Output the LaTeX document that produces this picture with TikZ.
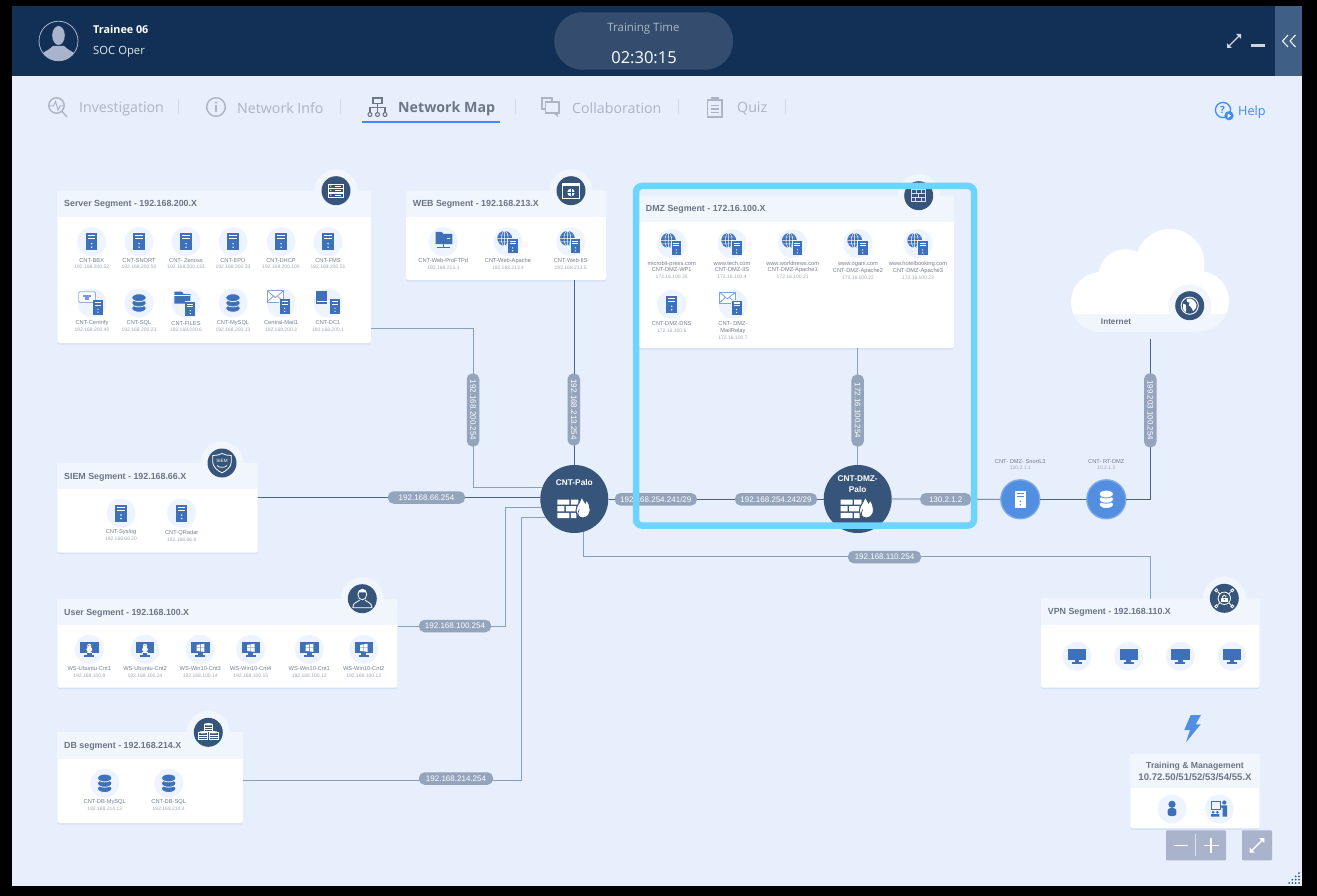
\documentclass[tikz,border=0pt]{standalone}
\usepackage{fontspec}
\setmainfont{Liberation Sans}
\newfontfamily\uifont{Open Sans}
\usetikzlibrary{positioning}
\usetikzlibrary{fit}
\usetikzlibrary{shadows}

\definecolor{pagebg}{HTML}{E6EFFB}
\definecolor{topbar}{HTML}{122F55}
\definecolor{topside}{HTML}{3F5F87}
\definecolor{timerbg}{HTML}{344D6E}
\definecolor{headbg}{HTML}{F1F6FC}
\definecolor{badgebg}{HTML}{37557B}
\definecolor{discbg}{HTML}{EDF4FF}
\definecolor{devblue}{HTML}{3E71BA}
\definecolor{lightdev}{HTML}{528FE0}
\definecolor{lightring}{HTML}{7DAAE8}
\definecolor{pillbg}{HTML}{93A4BC}
\definecolor{titletext}{HTML}{6B7588}
\definecolor{nametext}{HTML}{747E90}
\definecolor{iptext}{HTML}{A0A8B5}
\definecolor{tabgray}{HTML}{ABB5C4}
\definecolor{tabdark}{HTML}{6B7686}
\definecolor{linkblue}{HTML}{3F8BF0}
\definecolor{wiredark}{HTML}{4A6488}
\definecolor{wirelight}{HTML}{86A0C0}
\definecolor{hilite}{HTML}{6FD3FF}
\definecolor{softbtn}{HTML}{A9B3CB}
\definecolor{cardshadow}{HTML}{C9D7EE}

\newcommand{\pxfont}[2]{\fontsize{#1}{#2}\selectfont}
\newcommand{\devip}[1]{{\pxfont{5}{7}\color{iptext}#1}}

\tikzset{
  segbox/.style={fill=white, rounded corners=1.5pt, inner sep=0pt,
    drop shadow={shadow xshift=0pt, shadow yshift=-1.5pt, fill=cardshadow, opacity=.6}},
  headfill/.style={fill=headbg},
  segtitle/.style={anchor=west, inner sep=0pt, text=titletext, font=\bfseries\pxfont{8.85}{10}},
  devdisc/.style={circle, fill=discbg, minimum size=29, inner sep=0pt},
  devlabel/.style={anchor=north, align=center, inner sep=0pt, text=nametext, font=\pxfont{5.7}{6.8}},
  halo/.style={circle, fill=headbg, minimum size=43, inner sep=0pt},
  badge/.style={circle, fill=badgebg, minimum size=29, inner sep=0pt},
  fwdisc/.style={circle, fill=badgebg, minimum size=68, inner sep=0pt},
  fwlabel/.style={align=center, inner sep=0pt, text=white, font=\bfseries\pxfont{8.3}{10.3}},
  lightdisc/.style={circle, fill=lightdev, draw=lightring, line width=1.3, minimum size=39, inner sep=0pt},
  wire/.style={draw=wiredark, line width=.8},
  softwire/.style={draw=wirelight, line width=.9},
  pill/.style={fill=pillbg, text=white, rounded corners=5.5pt, minimum height=12.5, inner sep=0pt,
    font=\pxfont{8}{9}},
  tablabel/.style={anchor=west, inner sep=0pt, text=tabgray, font=\uifont\pxfont{14.2}{16}},
  tabbar/.style={draw=tabgray!50, line width=.7},
  tabicon/.style={draw=tabgray, line width=1.4},
  badgeline/.style={draw=white, line width=.8},
}

% device icons, drawn around (0,0)
\newcommand{\iconsrvc}[2]{%
  \fill[#1] (-5.7,-8.5) rectangle (5.7,8.5);
  \draw[#2, line width=1.1] (-3.6,-5.8) -- (3.6,-5.8) (-3.6,-2.8) -- (3.6,-2.8);
  \fill[#2] (0,2) circle (.8) (0,5.5) circle (.8);
}
\newcommand{\iconsrv}{\iconsrvc{devblue}{white}}
\newcommand{\subsrv}[2]{%
  \begin{scope}[shift={(#1,#2)},scale=.85]
    \draw[discbg, line width=1] (-5.7,-8.5) rectangle (5.7,8.5);
    \iconsrv
  \end{scope}
}
\newcommand{\icondbc}[2]{%
  \foreach \dy in {5.3,0,-5.3}
    \filldraw[fill=#1, draw=#2, line width=.8] (0,\dy) ellipse (7.2 and 3.9);
}
\newcommand{\icondb}{\icondbc{devblue}{discbg}}
\newcommand{\iconweb}{%
  \begin{scope}[shift={(-3.3,-3.3)}]
    \fill[devblue] (0,0) circle (7.4);
    \draw[white, line width=.45] (-7.4,0) -- (7.4,0) (0,-7.4) -- (0,7.4) (0,0) ellipse (3.4 and 7.4)
      (-6.5,-3.4) -- (6.5,-3.4) (-6.5,3.4) -- (6.5,3.4);
  \end{scope}
  \subsrv{4.7}{4.5}
}
\newcommand{\iconmon}{%
  \fill[devblue] (-9.2,-7) rectangle (9.2,4);
  \fill[devblue] (-2.4,4) rectangle (2.4,6.2);
  \fill[devblue] (-5,6) rectangle (5,7.4);
}
\newcommand{\iconwin}{%
  \iconmon
  \fill[white] (-3.7,-4.4) -- (-.4,-4.9) -- (-.4,-1.7) -- (-3.7,-1.7) -- cycle
    (.2,-5) -- (4,-5.5) -- (4,-1.7) -- (.2,-1.7) -- cycle
    (-3.7,-1.1) -- (-.4,-1.1) -- (-.4,2) -- (-3.7,1.6) -- cycle
    (.2,-1.1) -- (4,-1.1) -- (4,2.6) -- (.2,2.1) -- cycle;
}
\newcommand{\icontux}{%
  \iconmon
  \fill[white] (0,-3.4) circle (2.1) (0,.2) ellipse (2.9 and 2.7);
  \fill[white] (-2.7,2.3) rectangle (2.7,3);
  \fill[devblue] (-.8,-3.7) circle (.4) (.8,-3.7) circle (.4);
}
\newcommand{\iconftp}{%
  \fill[devblue] (-7.7,-9.7) -- (-1.5,-9.7) -- (0,-7.8) -- (9,-7.8) -- (9,2.3) -- (-7.7,2.3) -- cycle;
  \draw[white, line width=.8] (3.5,-3) -- (6.5,-3);
  \draw[devblue, line width=1.1] (0,2.3) -- (0,6) (-6.5,6) -- (6.5,6);
}
\newcommand{\iconmail}{%
  \filldraw[fill=white, draw=devblue!65, line width=.9] (-14,-12.3) rectangle (2.7,-1);
  \draw[devblue!65, line width=.8] (-14,-12.3) -- (-5.6,-5.5) -- (2.7,-12.3) (-14,-1) -- (-7.5,-7) (2.7,-1) -- (-3.7,-7);
  \subsrv{3.7}{3.6}
}
\newcommand{\iconfolder}{%
  \fill[devblue] (-11.7,-11.3) -- (-4,-11.3) -- (-2.5,-9) -- (4.3,-9) -- (4.3,.7) -- (-11.7,.7) -- cycle;
  \draw[white, line width=.5] (-11.7,-7.5) -- (4.3,-7.5);
  \subsrv{4.3}{6}
}
\newcommand{\iconbook}{%
  \fill[devblue] (-12.3,-12) rectangle (-1,.7);
  \fill[white] (-11.4,-1.6) rectangle (-1,-.6);
  \subsrv{7}{3.6}
}
\newcommand{\iconpanel}{%
  \filldraw[fill=white, draw=devblue!55, line width=.9, rounded corners=1pt] (-13.3,-11.3) rectangle (3.3,-.7);
  \fill[devblue!70] (-8.8,-7.6) rectangle (-1.2,-6.4);
  \fill[devblue!70] (-7.2,-5.6) rectangle (-2.8,-3.4);
  \subsrv{6}{4.5}
}
\newcommand{\iconperson}{%
  \fill[devblue] (0,-4.7) circle (3.6);
  \fill[devblue, rounded corners=2.5pt] (-4.3,7) -- (-4.3,-.8) -- (4.3,-.8) -- (4.3,7) -- cycle;
}
\newcommand{\icontrainer}{%
  \draw[devblue, line width=.9] (-8.3,-8) rectangle (1.3,.3);
  \fill[devblue] (5,-6.5) circle (2.1);
  \fill[devblue] (2.4,-3.6) -- (7.7,-3.6) -- (7.7,7.7) -- (3.4,7.7) -- (3.4,-1) -- (1,-2) -- cycle;
  \fill[devblue] (-6.2,3.3) circle (1.5) (-1.9,3.3) circle (1.5);
  \fill[devblue] (-8.2,5.1) rectangle (-4.2,7.7) (-3.9,5.1) rectangle (.1,7.7);
}
\newcommand{\diagarrows}[3]{%
  \draw[#1, line width=#3] (-#2+1,#2-1) -- (#2-1,-#2+1);
  \fill[#1] (#2,-#2) -- (0.3*#2,-#2) -- (#2,-0.3*#2) -- cycle;
  \fill[#1] (-#2,#2) -- (-0.3*#2,#2) -- (-#2,0.3*#2) -- cycle;
}

% badge icons
\newcommand{\badgerack}{%
  \foreach \dy in {-6.5,-2,2.5}{
    \draw[badgeline] (-7.2,\dy) rectangle (7.2,\dy+3.8);
    \fill[white] (-5.2,\dy+1.9) circle (.7);
    \draw[white, line width=.7] (-1,\dy+1.9) -- (5,\dy+1.9);
  }
}
\newcommand{\badgebrowser}{%
  \draw[badgeline] (-8.3,-7) rectangle (8.3,7.5);
  \fill[white] (-8.3,-7) rectangle (8.3,-4.5);
  \fill[white] (0,1.8) circle (3.8);
  \draw[badgebg, line width=.6] (-3.8,1.8) -- (3.8,1.8) (0,-2) -- (0,5.6);
}
\newcommand{\badgewall}{%
  \draw[badgeline, draw=white!80!badgebg] (-7,-6) rectangle (7,6)
    (-7,-2) -- (7,-2) (-7,2) -- (7,2) (-2.5,-6) -- (-2.5,-2) (3,-6) -- (3,-2)
    (0,-2) -- (0,2) (-3,2) -- (-3,6) (3,2) -- (3,6);
}
\newcommand{\badgeshield}{%
  \draw[badgeline] (0,-9.5) .. controls (3,-8) and (6,-7.5) .. (9.3,-7.5) -- (9.3,-1)
    .. controls (9.3,4) and (4,8) .. (0,9.8) .. controls (-4,8) and (-9.3,4) .. (-9.3,-1) -- (-9.3,-7.5)
    .. controls (-6,-7.5) and (-3,-8) .. (0,-9.5) -- cycle;
  \node[inner sep=0pt, text=white, font=\pxfont{4.6}{5}] (siemmark) at (0,-2.5) {SIEM};
  \draw[white, line width=.7] (-5,2.5) .. controls (-3,5) and (3,5) .. (5,2.5);
}
\newcommand{\badgeuser}{%
  \draw[badgeline] (0,-4.2) ellipse (4.4 and 5.3);
  \draw[badgeline] (-9.6,9) .. controls (-9.6,3.5) and (-4,3.3) .. (-2.7,1.2)
    (2.7,1.2) .. controls (4,3.3) and (9.6,3.5) .. (9.6,9) -- (-9.6,9);
  \fill[white] (-4.4,-6.2) .. controls (-3,-10) and (3,-10) .. (4.4,-6.2) -- (2.8,-6.4) -- (-2.8,-6.4) -- cycle;
}
\newcommand{\badgedbs}{%
  \foreach \ox/\oy in {0/-5,-5.3/3,5.3/3}{
    \filldraw[fill=badgebg, draw=white, line width=.6] (\ox-4.3,\oy-3) rectangle (\ox+4.3,\oy+4);
    \fill[white] (\ox,\oy-3) ellipse (4.3 and 1.2);
    \draw[white, line width=.6] (\ox-4.3,\oy) -- (\ox+4.3,\oy) (\ox-4.3,\oy+2) -- (\ox+4.3,\oy+2);
  }
}
\newcommand{\badgevpn}{%
  \draw[badgeline] (0,0) circle (6.2);
  \draw[badgeline] (-4.4,-4.4) -- (-6.7,-6.7) (4.4,-4.4) -- (6.7,-6.7) (-4.4,4.4) -- (-6.7,6.7) (4.4,4.4) -- (6.7,6.7);
  \foreach \sx/\sy in {-8/-8,8/-8,-8/8,8/8}
    \draw[badgeline] (\sx,\sy) circle (1.5);
  \filldraw[fill=white, draw=white] (-2.8,-.6) rectangle (2.8,3.2);
  \draw[badgeline] (-1.7,-.6) -- (-1.7,-2) .. controls (-1.5,-3.3) and (1.5,-3.3) .. (1.7,-2) -- (1.7,-.6);
  \fill[badgebg] (0,1.3) circle (.7);
}
\newcommand{\badgeglobe}{%
  \draw[white, line width=.9] (0,0) circle (8.6);
  \fill[white] (-2.5,-7) .. controls (2,-8) and (6,-5) .. (6.8,-1) .. controls (7,3) and (5,3) .. (3.5,5.5)
    .. controls (2,5) and (3,2) .. (1,1) .. controls (-1,1) and (-2,-1) .. (0,-3) .. controls (-2,-3) and (-4,-4) .. (-2.5,-7) -- cycle;
  \fill[white] (-6.5,-2) .. controls (-4,-2.5) and (-3,0) .. (-3.5,2) .. controls (-4,5) and (-3,6) .. (-4.5,6.5)
    .. controls (-7,4) and (-7.5,1) .. (-6.5,-2) -- cycle;
}
\newcommand{\iconfw}{%
  \fill[white] (-17,.5) rectangle (-5,5.6) (-3.5,.5) rectangle (4,5.6)
    (-17,7.2) rectangle (-10,12.3) (-8.5,7.2) rectangle (2,12.3)
    (-17,13.9) rectangle (-5,19) (-3.5,13.9) rectangle (2,19);
  \filldraw[fill=white, draw=badgebg, line width=.9] (7,-3.7) .. controls (8,0) and (10,2) .. (11,4)
    .. controls (11.5,2.8) and (12,2) .. (12.2,1) .. controls (14.5,4) and (15.8,7.5) .. (15.8,11)
    .. controls (15.8,16) and (12,18.9) .. (8.7,18.9) .. controls (5,18.9) and (1.7,16) .. (1.7,11)
    .. controls (1.7,7.5) and (4,6.5) .. (5,3.5) .. controls (6.5,1.5) and (7.3,-1) .. (7,-3.7) -- cycle;
  \draw[badgebg, line width=.7] (4.8,18) .. controls (3,15) and (3.6,12.5) .. (5,10.5);
}

% cards and their items
\newcommand{\segcard}[7]{%
  \coordinate (#1nw) at (#2,#3);
  \coordinate (#1se) at (#4,#5);
  \node[segbox, fit=(#1nw)(#1se)] (#1) {};
  \fill[headfill] (#2,#3) rectangle (#4,#6);
  \node[segtitle] (#1title) at (#2+6.7,{(#3+#6)/2+.8}) {#7};
}
\newcommand{\segbadge}[4]{%
  \node[halo] (#1halo) at (#2,#3) {};
  \node[badge] (#1) at (#2,#3) {};
  \begin{scope}[shift={(#2,#3)}] #4 \end{scope}
}
\newcommand{\devicon}[4]{%
  \node[devdisc] (#1) at (#2,#3) {};
  \begin{scope}[shift={(#2,#3)}] #4 \end{scope}
}
\newcommand{\devitem}[7][16.3]{%
  \devicon{#2}{#3}{#4}{#5}
  \node[devlabel] (#2txt) at (#3,#4+#1) {#6\\\devip{#7}};
}

\begin{document}
\begin{tikzpicture}[x=1pt,y=-1pt]
    \fill[black] (0,0) rectangle (1317,896);
    \useasboundingbox (0,0) rectangle (1317,896);
    \fill[pagebg] (12,6) rectangle (1302,886);

    % top bar
    \fill[topbar] (12,6) rectangle (1302,76);
    \fill[topside] (1275,6) rectangle (1302,76);
    \begin{scope}
        \clip (58.5,41) ellipse (19.5 and 19.8);
        \fill[softbtn] (58.5,35.5) ellipse (6.3 and 9.5);
        \fill[softbtn] (38,62) .. controls (40,51) and (49,51) .. (53,46) -- (64,46) .. controls (68,51) and (77,51) .. (79,62) -- cycle;
    \end{scope}
    \draw[softbtn, line width=.8] (58.5,41) ellipse (19.5 and 19.8);
    \node[anchor=west, inner sep=0pt, text=white, font=\uifont\bfseries\pxfont{10.8}{12}] (trainee) at (93,29.5) {Trainee 06};
    \node[anchor=west, inner sep=0pt, text=white!90!topbar, font=\uifont\pxfont{11.3}{12}] (role) at (93,51.5) {SOC Oper};
    \fill[timerbg, rounded corners=28pt] (554.3,12.3) rectangle (733,69.7);
    \node[inner sep=0pt, text=tabgray, font=\uifont\pxfont{11.5}{12}] (traintime) at (643.5,29) {Training Time};
    \node[inner sep=0pt, text=white, font=\uifont\pxfont{16.5}{18}] (clock) at (644,57.5) {02:30:15};
    \begin{scope}[shift={(1234,41)}] \diagarrows{white!80!topbar}{7}{1.2} \end{scope}
    \fill[white!80!topbar] (1250.7,43.7) rectangle (1264.5,47.3);
    \draw[white, line width=1] (1288,35) -- (1282.5,41) -- (1288,47) (1295.5,35) -- (1290,41) -- (1295.5,47);

    % tabs
    \node[tablabel] (tabinv) at (79,108.5) {Investigation};
    \node[tablabel] (tabinfo) at (237,108.5) {Network Info};
    \node[tablabel, text=tabdark, font=\uifont\bfseries\pxfont{14.2}{16}] (tabmap) at (398,108.5) {Network Map};
    \node[tablabel] (tabcollab) at (572,108.5) {Collaboration};
    \node[tablabel] (tabquiz) at (737,108.5) {Quiz};
    \foreach \bx in {178,340,515,678,785}
        \draw[tabbar] (\bx,99) -- (\bx,114);
    \fill[linkblue] (362,121) rectangle (500,123);
    % investigation icon
    \draw[tabicon] (56.5,105.5) circle (7.7);
    \draw[tabicon] (61.5,111) -- (67,117);
    \draw[tabicon, line width=1] (50,106) -- (53.5,106) -- (55.5,101.5) -- (58,110) -- (60,106) -- (63,106);
    % info icon
    \draw[tabicon] (216,107) circle (9.3);
    \fill[tabgray] (216,102.7) circle (1.2);
    \fill[tabgray] (215,105.5) rectangle (217,112);
    % tree icon
    \draw[tabdark, line width=1.3] (373,98) rectangle (382,103.5);
    \draw[tabdark, line width=1.2] (377.5,103.5) -- (377.5,107.5) (370,112) -- (370,107.5) -- (385,107.5) -- (385,112) (377.5,107.5) -- (377.5,112);
    \foreach \tx in {370,377.5,385}
        \draw[tabdark, line width=1.1] (\tx,114.5) circle (2);
    % collaboration icon
    \draw[tabicon] (552,102) -- (552,98) -- (542,98) -- (542,109) -- (545,109);
    \draw[tabicon] (545.5,102) rectangle (559,113);
    \fill[tabgray] (553,113) -- (558,117) -- (558,113) -- cycle;
    % quiz icon
    \draw[tabicon] (707.5,100) rectangle (722,117);
    \fill[tabgray] (711,97) rectangle (718.5,101.5);
    \draw[tabicon, line width=1.1] (710.5,105.5) -- (719,105.5) (710.5,109) -- (719,109) (710.5,112.5) -- (719,112.5);
    % help
    \draw[linkblue, line width=1.3] (1223,110) circle (7.6);
    \node[inner sep=0pt, text=linkblue, font=\uifont\bfseries\pxfont{10}{11}] (helpmark) at (1222.5,110) {?};
    \fill[linkblue] (1229,115.7) circle (4.6);
    \fill[white] (1227.6,113.5) -- (1231.2,115.7) -- (1227.6,118) -- cycle;
    \node[tablabel, text=linkblue, font=\uifont\pxfont{12.7}{14}] (helptext) at (1238,112.5) {Help};

    % server segment
    \segcard{srvseg}{57.3}{191}{371}{343}{217}{Server Segment - 192.168.200.X}
    \segbadge{srvbadge}{336}{190.7}{\badgerack}
    \devitem{bbx}{91.7}{241.7}{\iconsrv}{CNT-BBX}{192.168.200.52}
    \devitem{snort}{139}{241.7}{\iconsrv}{CNT-SNORT}{192.168.200.50}
    \devitem{zenoss}{186}{241.7}{\iconsrv}{CNT- Zenoss}{192.168.200.133}
    \devitem{epo}{233}{241.7}{\iconsrv}{CNT-EPO}{192.168.200.33}
    \devitem{dhcp}{281}{241.7}{\iconsrv}{CNT-DHCP}{192.168.200.100}
    \devitem{fms}{328}{241.7}{\iconsrv}{CNT-FMS}{192.168.200.51}
    \devitem[17]{centrify}{92}{303}{\iconpanel}{CNT-Centrify}{192.168.200.40}
    \devitem[17.2]{sql}{139}{303}{\icondb}{CNT-SQL}{192.168.200.23}
    \devitem[18]{files}{186}{303}{\iconfolder}{CNT-FILES}{192.168.200.6}
    \devitem[17.2]{mysql}{233}{303}{\icondb}{CNT-MySQL}{192.168.200.13}
    \devitem[17]{mailone}{281}{303}{\iconmail}{Central-Mail1}{192.168.200.3}
    \devitem[17.2]{dcone}{328}{303}{\iconbook}{CNT-DC1}{192.168.200.1}

    % web segment
    \segcard{webseg}{406}{191}{606}{280}{217}{WEB Segment - 192.168.213.X}
    \segbadge{webbadge}{571}{190.7}{\badgebrowser}
    \devitem{ftpd}{443.3}{241.7}{\iconftp}{CNT-Web-ProFTPd}{192.168.213.3}
    \devitem{apache}{508}{241.7}{\iconweb}{CNT-Web-Apache}{192.168.213.4}
    \devitem{iis}{570.7}{241.7}{\iconweb}{CNT-Web-IIS}{192.168.213.5}

    % dmz segment
    \segcard{dmzseg}{639}{196}{954}{348}{221.7}{DMZ Segment - 172.16.100.X}
    \segbadge{dmzbadge}{918.7}{195.7}{\badgewall}
    \devitem[17]{wpone}{671.7}{243.7}{\iconweb}{microbit-press.com\\CNT-DMZ-WP1}{172.16.100.35}
    \devitem[17]{dmziis}{732}{243.7}{\iconweb}{www.tech.com\\CNT-DMZ-IIS}{172.16.100.4}
    \devitem[17]{apone}{792.7}{243.7}{\iconweb}{www.worldnews.com\\CNT-DMZ-Apache1}{172.16.100.21}
    \devitem[17.8]{aptwo}{858}{243.7}{\iconweb}{www.ogani.com\\CNT-DMZ-Apache2}{172.16.100.22}
    \devitem[17.8]{apthree}{918}{243.7}{\iconweb}{www.hotelbooking.com\\CNT-DMZ-Apache3}{172.16.100.23}
    \devitem[17.4]{dmzdns}{671.7}{304.3}{\iconsrv}{CNT-DMZ-DNS}{172.16.100.6}
    \devitem[17]{relay}{733}{304.3}{\iconmail}{CNT- DMZ-\\MailRelay}{172.16.100.7}

    % siem segment
    \segcard{siemseg}{57.3}{463.3}{257.7}{552.7}{489}{SIEM Segment - 192.168.66.X}
    \segbadge{siembadge}{222}{463}{\badgeshield}
    \devitem{syslog}{121}{513}{\iconsrv}{CNT-Syslog}{192.168.66.20}
    \devitem[17]{qradar}{181.7}{513}{\iconsrv}{CNT-QRadar}{192.168.66.6}

    % user segment
    \segcard{userseg}{57.3}{599.3}{397.3}{687.7}{625}{User Segment - 192.168.100.X}
    \segbadge{userbadge}{362.3}{598.7}{\badgeuser}
    \devitem[16.7]{ubuone}{89.3}{649.3}{\icontux}{WS-Ubuntu-Cnt1}{192.168.100.9}
    \devitem[16.7]{ubutwo}{145}{649.3}{\icontux}{WS-Ubuntu-Cnt2}{192.168.100.24}
    \devitem[16.7]{winthree}{200.3}{649.3}{\iconwin}{WS-Win10-Cnt3}{192.168.100.14}
    \devitem[16.7]{winfour}{250.7}{649.3}{\iconwin}{WS-Win10-Cnt4}{192.168.100.15}
    \devitem[16.7]{winone}{309.3}{649.3}{\iconwin}{WS-Win10-Cnt1}{192.168.100.12}
    \devitem[16.7]{wintwo}{363.7}{649.3}{\iconwin}{WS-Win10-Cnt2}{192.168.100.13}

    % db segment
    \segcard{dbseg}{57.3}{732.3}{243}{823}{758.7}{DB segment - 192.168.214.X}
    \segbadge{dbbadge}{208.3}{732.3}{\badgedbs}
    \devitem{dbmysql}{104.7}{783.3}{\icondb}{CNT-DB-MySQL}{192.168.214.13}
    \devitem{dbsql}{168.7}{783.3}{\icondb}{CNT-DB-SQL}{192.168.214.4}

    % vpn segment
    \segcard{vpnseg}{1041}{598.7}{1259.7}{687.7}{625}{VPN Segment - 192.168.110.X}
    \segbadge{vpnbadge}{1224.3}{598.3}{\badgevpn}
    \foreach \vid/\vx in {a/1077,b/1128.7,c/1180.3,d/1232}{
        \devicon{vpn\vid}{\vx}{656.3}{\iconmon}
    }

    % training and management
    \fill[lightdev] (1190.7,715) -- (1201,715) -- (1195.7,724.3) -- (1200.7,724.3) -- (1186,742.3) -- (1190,730) -- (1184.3,730) -- cycle;
    \segcard{mgmtseg}{1130.3}{754}{1259.7}{828.3}{788}{}
    \node[align=center, inner sep=0pt, text=titletext, font=\bfseries\pxfont{8.65}{12.7}] (mgmttitle) at (1195,771.5) {Training \& Management\\{\pxfont{9.6}{12.7}10.72.50/51/52/53/54/55.X}};
    \devicon{mgmtuser}{1172}{809}{\iconperson}
    \devicon{mgmtclass}{1219.3}{809}{\icontrainer}

    % map buttons
    \fill[softbtn, rounded corners=1pt] (1166,830.3) rectangle (1226,860.3);
    \draw[white!60!softbtn, line width=.6] (1195.7,834) -- (1195.7,856);
    \draw[white, line width=1.5] (1174,845.3) -- (1188,845.3) (1203.5,845.3) -- (1219,845.3) (1211.2,838) -- (1211.2,853);
    \fill[softbtn, rounded corners=1pt] (1242,830.3) rectangle (1272,860.3);
    \begin{scope}[shift={(1257,845.3)}] \diagarrows{white}{7.3}{1.5} \end{scope}
    \foreach \i in {0,...,3}
        \foreach \j in {\i,...,3}
            \fill[badgebg] ({1299-(3-\j)*3.3},{883-\i*3.3}) circle (1);

    % internet cloud
    \fill[white] (1101,302) circle (30) (1199,301) circle (30) (1125,275.7) circle (26.5) (1170,263.5) circle (34.5);
    \fill[white] (1101,285) rectangle (1199,332);
    \begin{scope}
        \clip (1060,314) rectangle (1240,340);
        \fill[headbg] (1101,302) circle (30) (1199,301) circle (30);
        \fill[headbg] (1101,285) rectangle (1199,332);
    \end{scope}
    \node[inner sep=0pt, text=titletext, font=\bfseries\pxfont{8.2}{10}] (inettxt) at (1116,322) {Internet};
    \segbadge{inet}{1189.7}{305.7}{\badgeglobe}
    \coordinate (inetport) at (1150.3,339.3);

    % firewalls and dmz devices
    \node[fwdisc] (palo) at (574.3,499) {};
    \node[fwlabel] (palotxt) at (574.3,483) {CNT-Palo};
    \begin{scope}[shift={(574.3,499)}] \iconfw \end{scope}
    \node[fwdisc] (dmzfw) at (857.7,499) {};
    \node[fwlabel] (dmzfwtxt) at (857.7,484) {CNT-DMZ-\\Palo};
    \begin{scope}[shift={(857.7,499)}] \iconfw \end{scope}
    \node[lightdisc] (snortlt) at (1020.3,499.3) {};
    \begin{scope}[shift={(1020.3,499.3)}] \iconsrvc{white}{lightdev} \end{scope}
    \node[devlabel] (snortlttxt) at (1020.3,459) {CNT- DMZ- SnortL3\\\devip{130.2.1.1}};
    \node[lightdisc] (rtdmz) at (1106.3,499.3) {};
    \begin{scope}[shift={(1106.3,499.3)}] \icondbc{white}{lightdev} \end{scope}
    \node[devlabel] (rtdmztxt) at (1106.3,459) {CNT- RT-DMZ\\\devip{10.2.1.2}};

    % connectors
    \coordinate (srvbend) at (473,328.3);
    \coordinate (userbend) at (505,626.3);
    \coordinate (dbbend) at (521.7,780);
    \coordinate (vpnbend) at (1150.3,556.3);
    \draw[softwire] (srvseg.east |- srvbend) -- (srvbend) |- (palo.160);
    \draw[wire] (palo.north |- webseg.south) -- (palo.north);
    \draw[wire] (siemseg.east |- palo.177) -- (palo.177);
    \draw[softwire] (userseg.east |- userbend) -- (userbend) |- (palo.195);
    \draw[softwire] (dbseg.east |- dbbend) -- (dbbend) |- (palo.213);
    \draw[wire] (palo.east) -- (dmzfw.west);
    \draw[softwire] (dmzfw.north |- dmzseg.south) -- (dmzfw.north);
    \draw[wire] (dmzfw.east) -- (snortlt.west);
    \draw[wire] (snortlt.east) -- (rtdmz.west);
    \draw[wire] (rtdmz.east) -| (inetport);
    \draw[softwire] (palo.285) |- (vpnbend) -- (vpnseg.north -| vpnbend);

    % address pills
    \node[pill, minimum width=73, rotate=-90] (ipsrv) at (473,410) {192.168.200.254};
    \node[pill, minimum width=72, rotate=-90] (ipweb) at (573.8,409.5) {192.168.213.254};
    \node[pill, minimum width=72, rotate=-90] (ipdmz) at (857.7,410.5) {172.16.100.254};
    \node[pill, minimum width=74, rotate=-90] (ipinet) at (1150.3,410.3) {199.203.100.254};
    \node[pill, minimum width=77] (ipsiem) at (426.5,497.5) {192.168.66.254};
    \node[pill, minimum width=82] (ippalo) at (655.8,499.3) {192.168.254.241/29};
    \node[pill, minimum width=82] (ipdmzfw) at (776,499.3) {192.168.254.242/29};
    \node[pill, minimum width=51] (ipext) at (945.7,499.3) {130.2.1.2};
    \node[pill, minimum width=73] (ipvpn) at (884.5,557) {192.168.110.254};
    \node[pill, minimum width=72] (ipuser) at (455,626) {192.168.100.254};
    \node[pill, minimum width=74] (ipdb) at (456,778.5) {192.168.214.254};

    % highlight round the dmz
    \draw[hilite, line width=6.5, rounded corners=6pt] (636,186) rectangle (974,525.5);
\end{tikzpicture}
\end{document}
